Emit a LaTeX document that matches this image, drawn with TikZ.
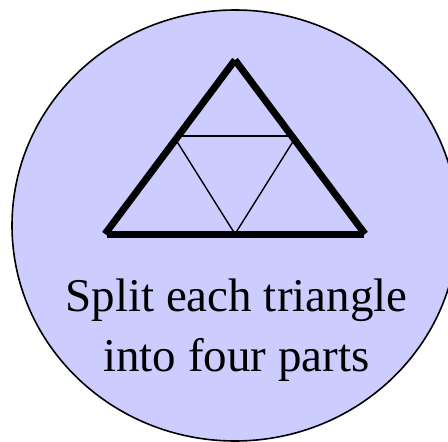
\documentclass[tikz,border=0pt]{standalone}
\usepackage{fontspec}
\setmainfont{Liberation Serif}
\definecolor{lav}{RGB}{204,204,255}
\begin{document}
\begin{tikzpicture}[x=1pt,y=-1pt,
  outerline/.style={line width=7pt,line cap=butt},
  innerline/.style={line width=1.4pt},
  rim/.style={draw=black,fill=lav,line width=1.6pt},
  caption/.style={anchor=base,inner sep=0pt,font=\fontsize{47}{59}\selectfont}]
\useasboundingbox (0,0) rectangle (448,442);
\begin{scope}
  \clip (0,0) rectangle (448,442);
  \path[rim] (235,225.5) ellipse [x radius=223, y radius=215.5];
\end{scope}
% corners of outer triangle
\coordinate (apex) at (235,60);
\coordinate (bl) at (105,234);
\coordinate (br) at (365,234);
\coordinate (bm) at (235,234);
% inner points
\coordinate (hl) at (179,136);
\coordinate (hr) at (291,136);
\coordinate (dl) at (176,140);
\coordinate (dr) at (294,140);
\draw[innerline] (hl) -- (hr);
\draw[innerline] (dl) -- (bm) -- (dr);
\draw[outerline] (bl) -- (apex);
\draw[outerline] (apex) -- (br);
\draw[outerline] (106.5,234) -- (363.5,234);
\node[caption] (line1) at (236.5,311.7) {Split each triangle};
\node[caption] (line2) at (236.5,371) {into four parts};
\end{tikzpicture}
\end{document}
